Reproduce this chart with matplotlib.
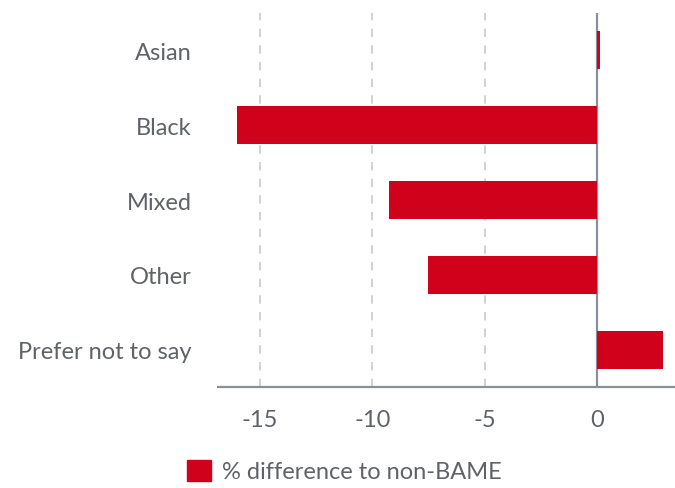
import matplotlib
matplotlib.use("Agg")
import matplotlib.pyplot as plt
from matplotlib.patches import Patch

# values
categories = ["Asian", "Black", "Mixed", "Other", "Prefer not to say"]
values = [0.1, -16.0, -9.25, -7.5, 2.9]
xticks = [-15, -10, -5, 0]
series_name = "% difference to non-BAME"

red = "#d0021b"
text_grey = "#5f6368"
axis_grey = "#8a9099"
grid_grey = "#c9c9c9"

plt.rcParams["font.family"] = ["Lato", "DejaVu Sans"]

fig = plt.figure(figsize=(6.75, 4.89), dpi=100)
ax = fig.add_axes([218 / 675, 1 - 388 / 489, 1 - 218 / 675, (388 - 14) / 489])

pos = list(range(len(categories)))
ax.barh(pos, values, height=0.51, color=red, zorder=5)

ax.set_ylim(len(categories) - 0.5, -0.5)
ax.set_xlim(-16.85, 3.45)
ax.set_yticks(pos)
ax.set_yticklabels(categories)
ax.set_xticks(xticks)
ax.set_xticklabels([str(t) for t in xticks])

# dashed grid, solid zero line
for t in xticks:
    if t == 0:
        ax.axvline(0, color=axis_grey, lw=1.6, zorder=4)
    else:
        ax.axvline(t, color=grid_grey, lw=1.2, ls=(0, (5, 5)), zorder=1)

for s in ["top", "right", "left"]:
    ax.spines[s].set_visible(False)
ax.spines["bottom"].set_color(axis_grey)
ax.spines["bottom"].set_linewidth(1.6)

ax.tick_params(axis="both", length=0, labelsize=17, colors=text_grey)
ax.tick_params(axis="x", pad=16)
ax.tick_params(axis="y", pad=19)

fig.legend(handles=[Patch(color=red)], labels=[series_name],
           loc="center left", bbox_to_anchor=(187 / 675, 1 - 472 / 489),
           frameon=False, fontsize=17, labelcolor=text_grey,
           handlelength=1.0, handleheight=1.0, handletextpad=0.5,
           borderpad=0, borderaxespad=0)

fig.savefig("out.png", dpi=100)
